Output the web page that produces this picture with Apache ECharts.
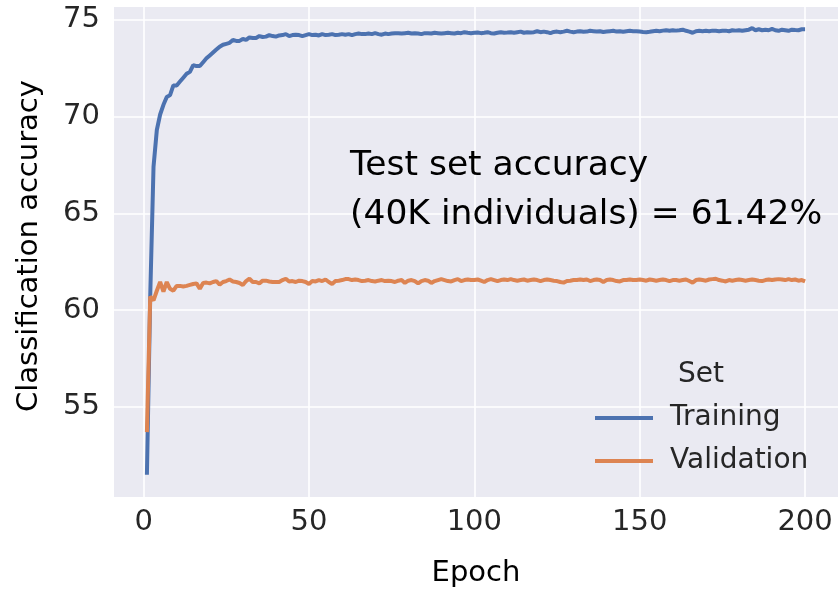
<!DOCTYPE html>
<html>
<head>
<meta charset="utf-8">
<script src="https://cdn.jsdelivr.net/npm/echarts@6/dist/echarts.min.js"></script>
<style>
html,body{margin:0;padding:0;background:#fff;}
#chart{width:838px;height:591px;}
</style>
</head>
<body>
<div id="chart"></div>
<script>
const epochs = Array.from({length: 200}, (_, i) => i + 1);
const xTicks = [0, 50, 100, 150, 200];
const yTicks = [55, 60, 65, 70, 75];
const training = [
51.5, 60.7, 67.4, 69.3, 70.1, 70.6, 71.0, 71.1, 71.6, 71.6,
71.8, 72.0, 72.2, 72.3, 72.65, 72.6, 72.6, 72.8, 73.0, 73.15,
73.3, 73.45, 73.6, 73.7, 73.75, 73.8, 73.95, 73.9, 73.9, 74.0,
73.95, 74.08, 74.05, 74.05, 74.15, 74.1, 74.12, 74.2, 74.15, 74.12,
74.18, 74.2, 74.25, 74.15, 74.2, 74.22, 74.2, 74.15, 74.2, 74.25,
74.2, 74.22, 74.18, 74.25, 74.2, 74.22, 74.25, 74.2, 74.22, 74.25,
74.22, 74.25, 74.2, 74.25, 74.28, 74.25, 74.25, 74.28, 74.25, 74.3,
74.25, 74.22, 74.28, 74.25, 74.28, 74.3, 74.3, 74.28, 74.3, 74.32,
74.28, 74.3, 74.28, 74.25, 74.3, 74.3, 74.28, 74.32, 74.3, 74.28,
74.3, 74.32, 74.3, 74.28, 74.32, 74.3, 74.35, 74.32, 74.3, 74.32,
74.33, 74.3, 74.32, 74.35, 74.3, 74.28, 74.32, 74.35, 74.32, 74.33,
74.35, 74.32, 74.35, 74.38, 74.32, 74.35, 74.33, 74.35, 74.4, 74.35,
74.38, 74.35, 74.3, 74.36, 74.38, 74.35, 74.38, 74.42, 74.38, 74.35,
74.38, 74.4, 74.37, 74.38, 74.42, 74.4, 74.38, 74.4, 74.36, 74.38,
74.4, 74.42, 74.38, 74.4, 74.37, 74.4, 74.42, 74.4, 74.4, 74.38,
74.36, 74.35, 74.37, 74.4, 74.42, 74.4, 74.43, 74.45, 74.42, 74.45,
74.43, 74.45, 74.48, 74.42, 74.38, 74.32, 74.4, 74.42, 74.4, 74.42,
74.4, 74.43, 74.42, 74.4, 74.42, 74.43, 74.4, 74.45, 74.43, 74.45,
74.42, 74.45, 74.48, 74.56, 74.45, 74.5, 74.45, 74.48, 74.45, 74.52,
74.45, 74.42, 74.48, 74.45, 74.42, 74.48, 74.46, 74.45, 74.5, 74.5
];
const validation = [
53.7, 60.7, 60.5, 61.0, 61.45, 60.95, 61.45, 61.1, 61.0, 61.25,
61.25, 61.22, 61.25, 61.3, 61.35, 61.38, 61.1, 61.4, 61.42, 61.38,
61.45, 61.5, 61.32, 61.45, 61.5, 61.58, 61.48, 61.45, 61.4, 61.3,
61.5, 61.62, 61.45, 61.45, 61.38, 61.52, 61.52, 61.48, 61.45, 61.45,
61.45, 61.55, 61.62, 61.48, 61.5, 61.45, 61.52, 61.5, 61.45, 61.35,
61.5, 61.48, 61.55, 61.5, 61.58, 61.45, 61.35, 61.5, 61.52, 61.55,
61.6, 61.6, 61.55, 61.58, 61.55, 61.5, 61.52, 61.55, 61.5, 61.48,
61.52, 61.55, 61.5, 61.52, 61.5, 61.45, 61.52, 61.55, 61.4, 61.52,
61.55, 61.5, 61.38, 61.5, 61.55, 61.52, 61.4, 61.5, 61.55, 61.6,
61.55, 61.5, 61.48, 61.55, 61.6, 61.5, 61.55, 61.58, 61.55, 61.55,
61.58, 61.52, 61.45, 61.55, 61.6, 61.55, 61.5, 61.55, 61.58, 61.55,
61.6, 61.55, 61.52, 61.55, 61.58, 61.52, 61.55, 61.58, 61.55, 61.5,
61.55, 61.58, 61.55, 61.52, 61.5, 61.45, 61.42, 61.5, 61.52, 61.55,
61.55, 61.58, 61.55, 61.58, 61.5, 61.55, 61.58, 61.55, 61.45, 61.55,
61.58, 61.55, 61.5, 61.48, 61.55, 61.55, 61.58, 61.55, 61.55, 61.58,
61.55, 61.52, 61.58, 61.55, 61.52, 61.55, 61.58, 61.55, 61.5, 61.55,
61.55, 61.52, 61.55, 61.58, 61.5, 61.42, 61.55, 61.58, 61.55, 61.52,
61.58, 61.6, 61.62, 61.55, 61.52, 61.48, 61.55, 61.52, 61.55, 61.58,
61.55, 61.52, 61.55, 61.58, 61.55, 61.52, 61.5, 61.55, 61.58, 61.55,
61.58, 61.6, 61.58, 61.55, 61.6, 61.55, 61.58, 61.52, 61.55, 61.48
];
const seriesNames = ['Training', 'Validation'];
const legendTitle = 'Set';
const annotation = 'Test set accuracy\n(40K individuals) = 61.42%';

const chart = echarts.init(document.getElementById('chart'), null, {renderer: 'canvas'});
const tickFont = {fontFamily: 'DejaVu Sans', fontSize: 29, color: '#262626'};
const nameFont = {fontFamily: 'DejaVu Sans', fontSize: 29, color: '#000'};

chart.setOption({
  animation: false,
  backgroundColor: '#fff',
  grid: {left: 114, top: 7, right: 0, bottom: 94, show: true, backgroundColor: '#EAEAF2', borderWidth: 0, containLabel: false, outerBoundsMode: 'none'},
  xAxis: {
    type: 'value', min: -8.95, max: 209.95,
    name: 'Epoch', nameLocation: 'middle', nameGap: 62, nameTextStyle: nameFont,
    axisLine: {show: false}, axisTick: {show: false, customValues: xTicks},
    axisLabel: Object.assign({customValues: xTicks, margin: 11}, tickFont),
    splitLine: {show: true, lineStyle: {color: '#fff', width: 1.6}}
  },
  yAxis: {
    type: 'value', min: 50.35, max: 75.65,
    name: 'Classification accuracy', nameLocation: 'middle', nameGap: 70, nameRotate: 90,
    nameTextStyle: Object.assign({padding: [0, 0, 0, 12]}, nameFont),
    axisLine: {show: false}, axisTick: {show: false, customValues: yTicks},
    axisLabel: Object.assign({customValues: yTicks, margin: 14}, tickFont),
    splitLine: {show: true, lineStyle: {color: '#fff', width: 1.6}}
  },
  legend: {
    orient: 'vertical', left: 590, top: 399, itemWidth: 58, itemHeight: 4, itemGap: 15,
    icon: 'rect',
    textStyle: {fontFamily: 'DejaVu Sans', fontSize: 28, color: '#262626', padding: [0,0,0,12]},
    data: seriesNames
  },
  graphic: [
    {type: 'text', left: 678, top: 361, z: 100, style: {text: legendTitle, font: '28px "DejaVu Sans"', fill: '#262626'}},
    {type: 'text', left: 350, top: 142, z: 100, style: {text: annotation, font: '34.5px "DejaVu Sans"', fill: '#000', lineHeight: 49}}
  ],
  series: [
    {name: seriesNames[0], type: 'line', data: epochs.map((e, i) => [e, training[i]]), showSymbol: false, lineStyle: {color: '#4C72B0', width: 4}, itemStyle: {color: '#4C72B0'}},
    {name: seriesNames[1], type: 'line', data: epochs.map((e, i) => [e, validation[i]]), showSymbol: false, lineStyle: {color: '#DD8452', width: 4}, itemStyle: {color: '#DD8452'}}
  ]
});
</script>
</body>
</html>
